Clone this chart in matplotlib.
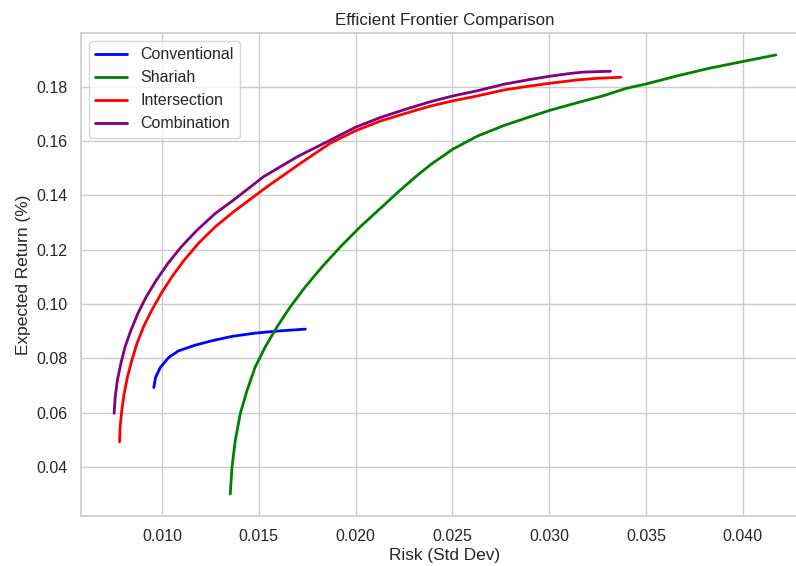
import matplotlib
matplotlib.use("Agg")
import matplotlib.pyplot as plt
import seaborn as sns

# points (risk, return)
conv_risk = [0.00958, 0.00967, 0.00992, 0.01035, 0.01086, 0.01172, 0.01257, 0.0136, 0.01479,
             0.01599, 0.01741]
conv_ret = [0.0693, 0.0730, 0.0767, 0.0804, 0.0828, 0.0849, 0.0865, 0.0881, 0.0893,
            0.0901, 0.0908]

shariah_risk = [0.01353, 0.01362, 0.01379, 0.01405, 0.0144, 0.01482, 0.01534, 0.01595, 0.01663,
                0.01741, 0.01827, 0.01922, 0.02025, 0.02146, 0.02222, 0.02309, 0.02387, 0.02502,
                0.02628, 0.02765, 0.02903, 0.03002, 0.03144, 0.03281, 0.03397, 0.035, 0.03655,
                0.03827, 0.03994, 0.04171]
shariah_ret = [0.0301, 0.0401, 0.0499, 0.0598, 0.0683, 0.0769, 0.0843, 0.0917, 0.0990,
               0.1064, 0.1137, 0.1211, 0.1285, 0.1364, 0.1414, 0.1468, 0.1513, 0.1570,
               0.1618, 0.1657, 0.1690, 0.1713, 0.1741, 0.1767, 0.1794, 0.1810, 0.1839,
               0.1868, 0.1892, 0.1917]

inter_risk = [0.00781, 0.00784, 0.00793, 0.00805, 0.00822, 0.00845, 0.00871, 0.00905, 0.00948,
              0.00996, 0.01052, 0.01115, 0.01189, 0.01276, 0.0137, 0.01543, 0.01715, 0.01871,
              0.02, 0.02129, 0.02258, 0.02387, 0.02502, 0.02628, 0.02765, 0.02903, 0.03006,
              0.03144, 0.03247, 0.03371]
inter_ret = [0.0493, 0.0548, 0.0610, 0.0671, 0.0732, 0.0794, 0.0855, 0.0917, 0.0978,
             0.1039, 0.1101, 0.1162, 0.1224, 0.1285, 0.1340, 0.1432, 0.1518, 0.1593,
             0.1638, 0.1674, 0.1702, 0.1729, 0.1748, 0.1766, 0.1788, 0.1803, 0.1813,
             0.1825, 0.1831, 0.1835]

comb_risk = [0.00753, 0.00759, 0.0077, 0.00788, 0.0081, 0.0084, 0.00876, 0.00919, 0.00971,
             0.01031, 0.011, 0.01181, 0.01276, 0.0137, 0.01525, 0.01698, 0.01871, 0.02,
             0.02129, 0.02258, 0.02387, 0.02502, 0.02628, 0.02765, 0.02903, 0.03006, 0.03109,
             0.03178, 0.03317]
comb_ret = [0.0598, 0.0659, 0.0720, 0.0782, 0.0843, 0.0904, 0.0966, 0.1027, 0.1088,
            0.1150, 0.1211, 0.1272, 0.1334, 0.1383, 0.1469, 0.1542, 0.1604, 0.1651,
            0.1687, 0.1717, 0.1745, 0.1766, 0.1785, 0.1809, 0.1827, 0.1839, 0.1849,
            0.1854, 0.1857]

sns.set_theme(style="whitegrid")
plt.rcParams["font.family"] = ["Liberation Sans", "DejaVu Sans"]

fig = plt.figure(figsize=(7.96, 5.66), dpi=100)
ax = fig.add_axes([81/796, 50/566, 728/796, 483/566])

ax.plot(conv_risk, conv_ret, color="blue", lw=2, label="Conventional")
ax.plot(shariah_risk, shariah_ret, color="green", lw=2, label="Shariah")
ax.plot(inter_risk, inter_ret, color="red", lw=2, label="Intersection")
ax.plot(comb_risk, comb_ret, color="purple", lw=2, label="Combination")

ax.set_title("Efficient Frontier Comparison", fontsize=12.2)
ax.set_xlabel("Risk (Std Dev)", fontsize=12.4, labelpad=3)
ax.set_ylabel("Expected Return (%)", fontsize=12.4)
ax.tick_params(labelsize=11.5)
ax.legend(loc="upper left", fontsize=11.5)

fig.savefig("out.png", dpi=100)
